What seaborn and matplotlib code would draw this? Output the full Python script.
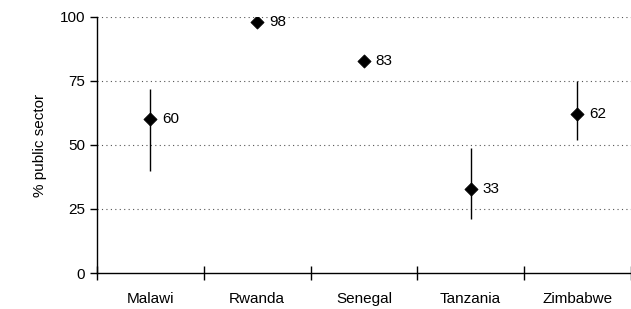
import matplotlib
matplotlib.use('Agg')
import matplotlib.pyplot as plt
import seaborn as sns
import pandas as pd
import numpy as np

paises = ['Malawi', 'Rwanda', 'Senegal', 'Tanzania', 'Zimbabwe']
publico = [60, 98, 83, 33, 62]
minimo = [40, 98, 83, 21, 52]
maximo = [72, 98, 83, 49, 75]

df = pd.DataFrame({'pais': paises, 'publico': publico,
                   'minimo': minimo, 'maximo': maximo})
df['pos'] = np.arange(len(df))

sns.set_style('white')
plt.rcParams['font.family'] = ['Liberation Sans', 'DejaVu Sans']
plt.rcParams['font.size'] = 11
for k in ['text.color', 'axes.labelcolor', 'xtick.color', 'ytick.color']:
    plt.rcParams[k] = 'black'

fig = plt.figure(figsize=(6.31, 3.09), dpi=100)
ax = fig.add_axes([0.1537, 0.1165, 0.846, 0.8285])

# faixas (min-max)
ax.vlines(df['pos'], df['minimo'], df['maximo'], color='black', linewidth=1)
sns.scatterplot(x='pos', y='publico', data=df, marker='D', s=45,
                color='black', edgecolor='black', ax=ax, zorder=3, legend=False)

for x, y in zip(df['pos'], df['publico']):
    ax.annotate(str(y), (x, y), xytext=(8.5, 0), textcoords='offset points',
                va='center', ha='left', fontsize=11)

ax.set_xlim(-0.5, 4.5)
ax.set_ylim(0, 100)
ax.set_yticks([0, 25, 50, 75, 100])
ax.set_xticks(df['pos'])
ax.set_xticklabels(paises)
ax.set_xticks(np.arange(-0.5, 5, 1), minor=True)
ax.tick_params(axis='x', which='major', length=0, pad=14, bottom=True)
ax.tick_params(axis='x', which='minor', length=10, direction='inout', width=1,
               color='black', bottom=True)
ax.tick_params(axis='y', length=5, direction='out', width=1, color='black', left=True)

for y in [25, 50, 75, 100]:
    ax.axhline(y, color='#555555', linestyle=(0, (1, 3)), linewidth=0.8, zorder=0)

for s in ['top', 'right']:
    ax.spines[s].set_visible(False)
for s in ['left', 'bottom']:
    ax.spines[s].set_color('black')
    ax.spines[s].set_linewidth(1)

ax.set_xlabel('')
ax.set_ylabel('% public sector', labelpad=9)

fig.savefig('out.png', dpi=100)
